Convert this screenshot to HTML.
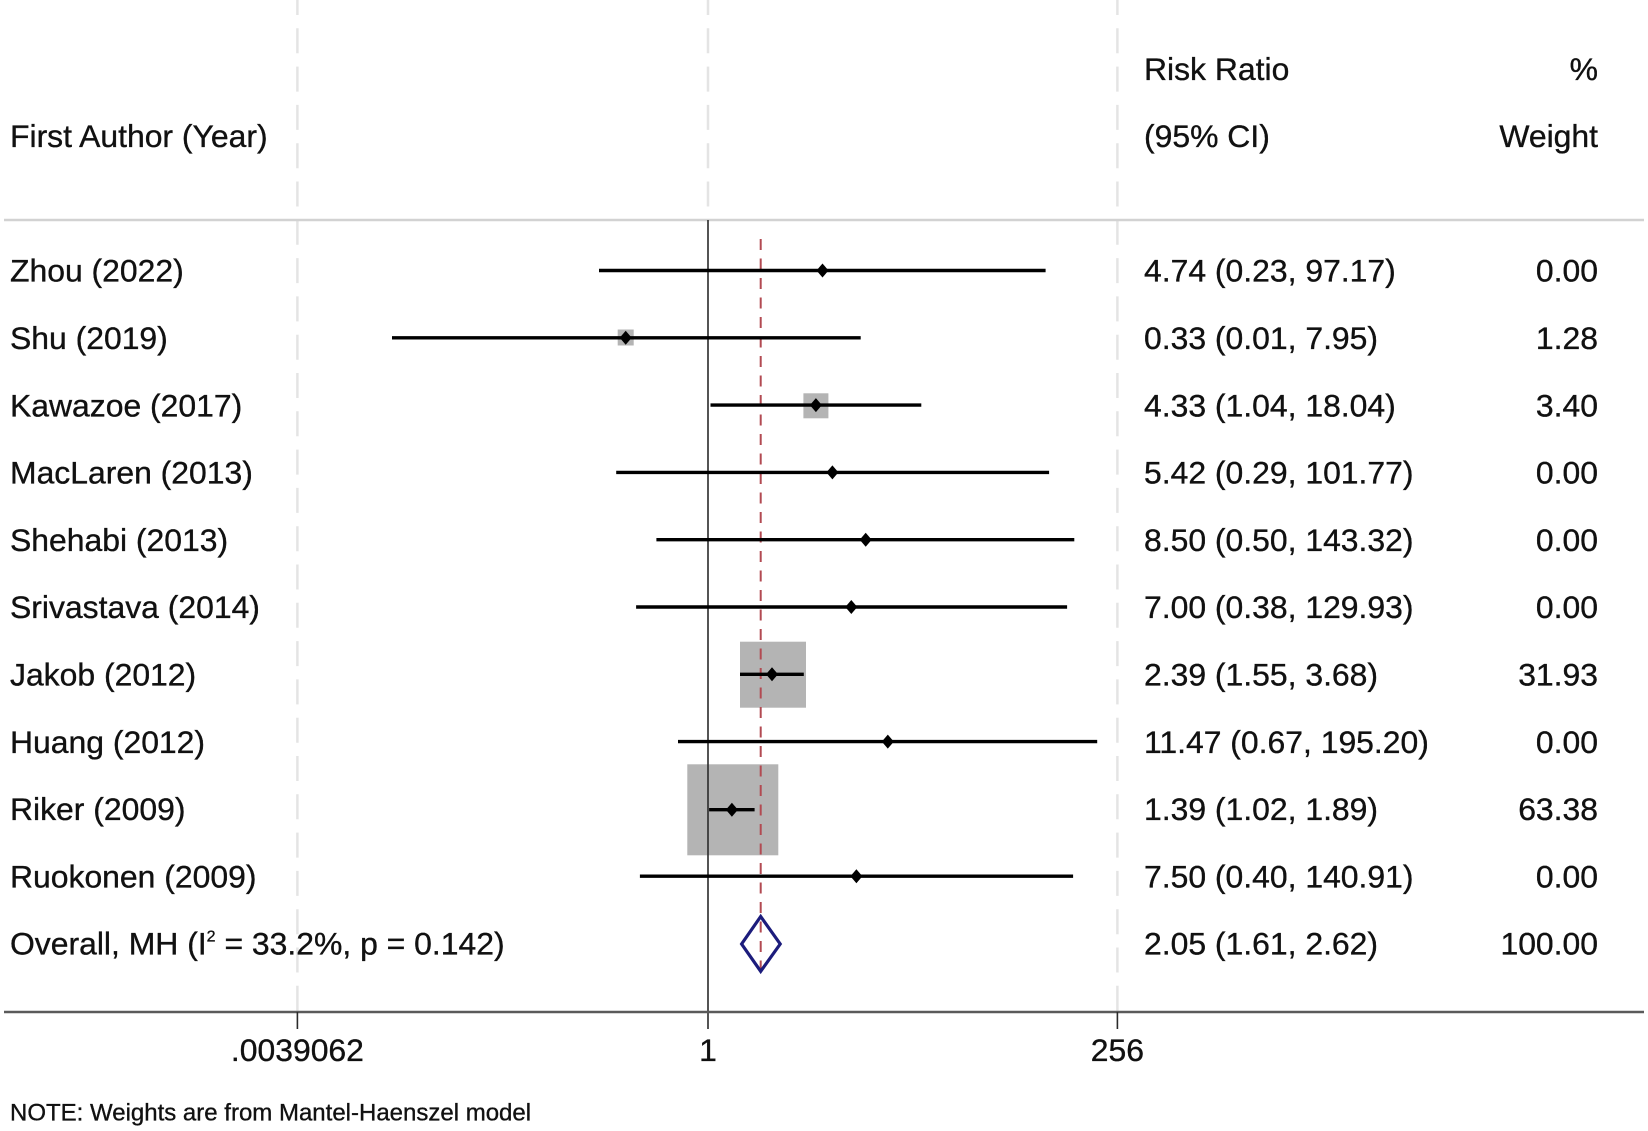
<!DOCTYPE html>
<html>
<head>
<meta charset="utf-8">
<style>
  html, body { margin: 0; padding: 0; background: #ffffff; }
  svg { display: block; }
  text { font-family: "Liberation Sans", Arial, sans-serif; fill: #111111; stroke: #111111; stroke-width: 0.35; }
</style>
</head>
<body>
<svg width="1648" height="1131" viewBox="0 0 1648 1131" xmlns="http://www.w3.org/2000/svg">
  <rect x="0" y="0" width="1648" height="1131" fill="#ffffff"/>

  <!-- light dashed grid lines -->
  <g stroke="#e4e4e4" stroke-width="2.5" stroke-dasharray="25 13.3" stroke-dashoffset="10" fill="none">
    <line x1="297.4" y1="0" x2="297.4" y2="1011"/>
    <line x1="708" y1="0" x2="708" y2="219"/>
    <line x1="1117.4" y1="0" x2="1117.4" y2="1011"/>
  </g>

  <!-- header rule -->
  <line x1="4" y1="220" x2="1644" y2="220" stroke="#d2d2d2" stroke-width="2.5"/>

  <!-- weight squares -->
  <g fill="#b4b4b4">
    <rect x="617.7" y="329.5" width="16" height="16"/>
    <rect x="803.4" y="393.3" width="25" height="25"/>
    <rect x="740" y="641.7" width="66" height="66"/>
    <rect x="687.3" y="764.3" width="91" height="91"/>
  </g>

  <!-- null line -->
  <line x1="708" y1="220" x2="708" y2="1029" stroke="#2a2a2a" stroke-width="1.6"/>

  <!-- overall (red dashed) line -->
  <line x1="760.7" y1="239" x2="760.7" y2="978" stroke="#b24a52" stroke-width="2" stroke-dasharray="11 8.5"/>

  <!-- CI lines -->
  <g stroke="#000000" stroke-width="3.4" fill="none">
    <line x1="599.0" y1="270.5" x2="1045.6" y2="270.5"/>
    <line x1="392" y1="337.8" x2="860.7" y2="337.8"/>
    <line x1="710.5" y1="405.1" x2="921.3" y2="405.1"/>
    <line x1="616.2" y1="472.4" x2="1049.1" y2="472.4"/>
    <line x1="656.4" y1="539.7" x2="1074.3" y2="539.7"/>
    <line x1="636.1" y1="607.0" x2="1067.1" y2="607.0"/>
    <line x1="740.0" y1="674.3" x2="803.8" y2="674.3"/>
    <line x1="678.0" y1="741.6" x2="1097.2" y2="741.6"/>
    <line x1="709.1" y1="809.7" x2="754.6" y2="809.7"/>
    <line x1="639.9" y1="876.2" x2="1073.1" y2="876.2"/>
  </g>

  <!-- point estimate markers -->
  <g fill="#000000">
    <polygon points="822.5,263.5 828.5,270.5 822.5,277.5 816.5,270.5"/>
    <polygon points="625.7,330.8 631.7,337.8 625.7,344.8 619.7,337.8"/>
    <polygon points="815.9,398.1 821.9,405.1 815.9,412.1 809.9,405.1"/>
    <polygon points="832.4,465.4 838.4,472.4 832.4,479.4 826.4,472.4"/>
    <polygon points="865.7,532.7 871.7,539.7 865.7,546.7 859.7,539.7"/>
    <polygon points="851.3,600.0 857.3,607.0 851.3,614.0 845.3,607.0"/>
    <polygon points="772.0,667.3 778.0,674.3 772.0,681.3 766.0,674.3"/>
    <polygon points="887.8,734.6 893.8,741.6 887.8,748.6 881.8,741.6"/>
    <polygon points="731.9,802.7 737.9,809.7 731.9,816.7 725.9,809.7"/>
    <polygon points="856.4,869.2 862.4,876.2 856.4,883.2 850.4,876.2"/>
  </g>

  <!-- overall diamond -->
  <polygon points="760.7,916.5 780.2,944 760.7,971.3 741.6,944" fill="none" stroke="#1c1c7c" stroke-width="3.2" stroke-linejoin="miter"/>

  <!-- x axis -->
  <line x1="4" y1="1012" x2="1644" y2="1012" stroke="#5a5a5a" stroke-width="2.6"/>
  <g stroke="#2a2a2a" stroke-width="1.6">
    <line x1="297.4" y1="1012" x2="297.4" y2="1029"/>
    <line x1="1117.4" y1="1012" x2="1117.4" y2="1029"/>
  </g>
  <g font-size="31.9" text-anchor="middle">
    <text x="297.4" y="1061">.0039062</text>
    <text x="708" y="1061">1</text>
    <text x="1117.4" y="1061">256</text>
  </g>

  <!-- headers -->
  <g font-size="31.9">
    <text x="10" y="147">First Author (Year)</text>
    <text x="1144" y="80">Risk Ratio</text>
    <text x="1144" y="147">(95% CI)</text>
    <text x="1598" y="80" text-anchor="end">%</text>
    <text x="1598" y="147" text-anchor="end">Weight</text>
  </g>

  <!-- study labels -->
  <g font-size="31.9">
    <text x="10" y="281.7">Zhou (2022)</text>
    <text x="10" y="349.0">Shu (2019)</text>
    <text x="10" y="416.3">Kawazoe (2017)</text>
    <text x="10" y="483.6">MacLaren (2013)</text>
    <text x="10" y="550.9">Shehabi (2013)</text>
    <text x="10" y="618.2">Srivastava (2014)</text>
    <text x="10" y="685.5">Jakob (2012)</text>
    <text x="10" y="752.8">Huang (2012)</text>
    <text x="10" y="820.1">Riker (2009)</text>
    <text x="10" y="887.4">Ruokonen (2009)</text>
    <text x="10" y="954.7">Overall, MH (I<tspan font-size="16" dy="-13">2</tspan><tspan dy="13"> = 33.2%, p = 0.142)</tspan></text>
  </g>

  <!-- estimates -->
  <g font-size="31.9">
    <text x="1144" y="281.7">4.74 (0.23, 97.17)</text>
    <text x="1144" y="349.0">0.33 (0.01, 7.95)</text>
    <text x="1144" y="416.3">4.33 (1.04, 18.04)</text>
    <text x="1144" y="483.6">5.42 (0.29, 101.77)</text>
    <text x="1144" y="550.9">8.50 (0.50, 143.32)</text>
    <text x="1144" y="618.2">7.00 (0.38, 129.93)</text>
    <text x="1144" y="685.5">2.39 (1.55, 3.68)</text>
    <text x="1144" y="752.8">11.47 (0.67, 195.20)</text>
    <text x="1144" y="820.1">1.39 (1.02, 1.89)</text>
    <text x="1144" y="887.4">7.50 (0.40, 140.91)</text>
    <text x="1144" y="954.7">2.05 (1.61, 2.62)</text>
  </g>

  <!-- weights -->
  <g font-size="31.9" text-anchor="end">
    <text x="1598" y="281.7">0.00</text>
    <text x="1598" y="349.0">1.28</text>
    <text x="1598" y="416.3">3.40</text>
    <text x="1598" y="483.6">0.00</text>
    <text x="1598" y="550.9">0.00</text>
    <text x="1598" y="618.2">0.00</text>
    <text x="1598" y="685.5">31.93</text>
    <text x="1598" y="752.8">0.00</text>
    <text x="1598" y="820.1">63.38</text>
    <text x="1598" y="887.4">0.00</text>
    <text x="1598" y="954.7">100.00</text>
  </g>

  <!-- note -->
  <text x="10" y="1120.5" font-size="24">NOTE: Weights are from Mantel-Haenszel model</text>
</svg>
</body>
</html>
